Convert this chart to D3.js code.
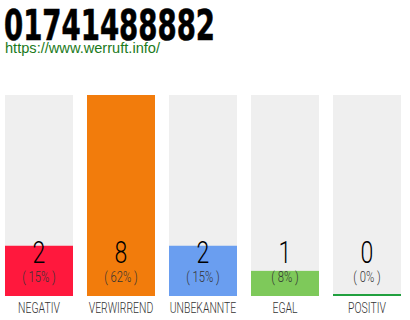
<!DOCTYPE html>
<html>
<head>
<meta charset="utf-8">
<script src="https://cdn.jsdelivr.net/npm/d3@7"></script>
<style>
  body { margin: 0; background: #fff; }
  svg { display: block; }
</style>
</head>
<body>
<svg width="410" height="320"></svg>
<script>
// daten
var categories = ["NEGATIV", "VERWIRREND", "UNBEKANNTE", "EGAL", "POSITIV"];
var counts = [2, 8, 2, 1, 0];
var percents = ["15%", "62%", "15%", "8%", "0%"];
var colors = ["#ff183d", "#f27c0c", "#6a9ef0", "#7ec95a", "#21a03f"];
var title = "01741488882";
var url = "https://www.werruft.info/";

var svg = d3.select("svg");

var x = d3.scaleBand()
  .domain(categories)
  .range([5, 401])
  .paddingInner(14 / 82)
  .paddingOuter(0);

var y = d3.scaleLinear()
  .domain([0, d3.max(counts)])
  .range([296, 95]);

// titel
svg.append("text")
  .attr("x", 4)
  .attr("y", 40)
  .attr("font-family", "DejaVu Sans Condensed, DejaVu Sans")
  .attr("font-weight", "bold")
  .attr("font-size", 43)
  .attr("textLength", 211)
  .attr("lengthAdjust", "spacingAndGlyphs")
  .attr("stroke", "#000")
  .attr("stroke-width", 0.6)
  .attr("fill", "#000")
  .text(title);

svg.append("text")
  .attr("x", 5)
  .attr("y", 53)
  .attr("font-family", "Liberation Sans, Arial")
  .attr("font-size", 15)
  .attr("textLength", 155)
  .attr("lengthAdjust", "spacingAndGlyphs")
  .attr("fill", "#1b7a1b")
  .text(url);

var g = svg.selectAll(".bar")
  .data(categories)
  .enter().append("g")
  .attr("class", "bar");

// hintergrund
g.append("rect")
  .attr("x", function (d) { return x(d); })
  .attr("y", y(d3.max(counts)))
  .attr("width", x.bandwidth())
  .attr("height", y(0) - y(d3.max(counts)))
  .attr("fill", "#efefef");

g.append("rect")
  .attr("x", function (d) { return x(d); })
  .attr("y", function (d, i) { return counts[i] == 0 ? y(0) - 2 : y(counts[i]); })
  .attr("width", x.bandwidth())
  .attr("height", function (d, i) { return counts[i] == 0 ? 2 : y(0) - y(counts[i]); })
  .attr("fill", function (d, i) { return colors[i]; });

function condensed(sel, cx, cy, sx) {
  sel.attr("transform", "translate(" + cx + "," + cy + ") scale(" + sx + ",1)");
}

g.append("text")
  .each(function (d, i) {
    condensed(d3.select(this), x(d) + x.bandwidth() / 2, 263, 0.72);
  })
  .attr("text-anchor", "middle")
  .attr("font-family", "Roboto")
  .attr("font-weight", 300)
  .attr("font-size", 32)
  .attr("fill", "#000")
  .text(function (d, i) { return counts[i]; });

g.append("text")
  .each(function (d, i) {
    condensed(d3.select(this), x(d) + x.bandwidth() / 2, 282, 0.75);
  })
  .attr("text-anchor", "middle")
  .attr("font-family", "Roboto")
  .attr("font-weight", 300)
  .attr("font-size", 15)
  .attr("fill", "#333")
  .text(function (d, i) { return "( " + percents[i] + " )"; });

g.append("text")
  .each(function (d, i) {
    condensed(d3.select(this), x(d) + x.bandwidth() / 2, 313, 0.72);
  })
  .attr("text-anchor", "middle")
  .attr("font-family", "Roboto")
  .attr("font-weight", 300)
  .attr("font-size", 14.5)
  .attr("fill", "#333")
  .text(function (d) { return d; });
</script>
</body>
</html>
